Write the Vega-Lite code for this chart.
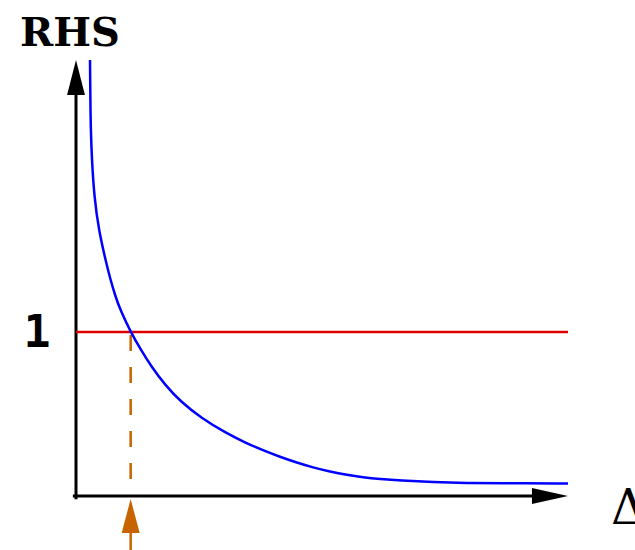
{
  "$schema": "https://vega.github.io/schema/vega-lite/v6.json",
  "width": 492,
  "height": 436,
  "autosize": {"type": "none"},
  "padding": {"left": 76, "top": 60, "right": 67, "bottom": 54},
  "background": "white",
  "config": {"view": {"stroke": null}},
  "datasets": {
    "curve": [
      {"d": 0.2561, "rhs": 2.6585},
      {"d": 0.2616, "rhs": 2.4634},
      {"d": 0.2689, "rhs": 2.2378},
      {"d": 0.2927, "rhs": 2.0366},
      {"d": 0.3348, "rhs": 1.8232},
      {"d": 0.4152, "rhs": 1.622},
      {"d": 0.5488, "rhs": 1.4268},
      {"d": 0.6274, "rhs": 1.3232},
      {"d": 0.7189, "rhs": 1.2195},
      {"d": 0.8104, "rhs": 1.1341},
      {"d": 1.0, "rhs": 1.0},
      {"d": 1.189, "rhs": 0.8902},
      {"d": 1.372, "rhs": 0.7927},
      {"d": 1.628, "rhs": 0.6768},
      {"d": 1.9207, "rhs": 0.5732},
      {"d": 2.2866, "rhs": 0.4768},
      {"d": 2.7439, "rhs": 0.3835},
      {"d": 3.1098, "rhs": 0.3232},
      {"d": 3.4207, "rhs": 0.2787},
      {"d": 3.7317, "rhs": 0.2384},
      {"d": 4.0427, "rhs": 0.2030},
      {"d": 4.3354, "rhs": 0.1738},
      {"d": 4.6463, "rhs": 0.1482},
      {"d": 4.9573, "rhs": 0.128},
      {"d": 5.25, "rhs": 0.114},
      {"d": 5.561, "rhs": 0.1037},
      {"d": 5.9268, "rhs": 0.0945},
      {"d": 6.5305, "rhs": 0.0854},
      {"d": 7.1524, "rhs": 0.0793},
      {"d": 7.7561, "rhs": 0.0774},
      {"d": 9.0, "rhs": 0.0762}
    ]
  },
  "layer": [
    {
      "data": {"values": [{"x": -0.03, "x2": 8.4, "y": 0, "y2": 0}, {"x": 0, "x2": 0, "y": -0.01, "y2": 2.45}]},
      "mark": {"type": "rule", "color": "black", "strokeWidth": 3, "strokeCap": "square"},
      "encoding": {
        "x": {"field": "x", "type": "quantitative", "scale": {"domain": [0, 9], "nice": false, "zero": false}, "axis": null},
        "x2": {"field": "x2"},
        "y": {"field": "y", "type": "quantitative", "scale": {"domain": [0, 2.6585], "nice": false, "zero": false}, "axis": null},
        "y2": {"field": "y2"}
      }
    },
    {
      "data": {"values": [{"x": 0, "y": 2.552}]},
      "mark": {"type": "point", "filled": true, "opacity": 1, "color": "black", "size": 1225, "shape": "M0,-1L-0.51,1L0.51,1Z", "clip": false},
      "encoding": {
        "x": {"field": "x", "type": "quantitative", "scale": {"domain": [0, 9], "nice": false, "zero": false}, "axis": null},
        "y": {"field": "y", "type": "quantitative", "scale": {"domain": [0, 2.6585], "nice": false, "zero": false}, "axis": null}
      }
    },
    {
      "data": {"values": [{"x": 8.67, "y": 0}]},
      "mark": {"type": "point", "filled": true, "opacity": 1, "color": "black", "size": 1296, "shape": "M1,0L-1,-0.44L-1,0.44Z", "clip": false},
      "encoding": {
        "x": {"field": "x", "type": "quantitative", "scale": {"domain": [0, 9], "nice": false, "zero": false}, "axis": null},
        "y": {"field": "y", "type": "quantitative", "scale": {"domain": [0, 2.6585], "nice": false, "zero": false}, "axis": null}
      }
    },
    {
      "data": {"values": [{"x": 0, "x2": 9, "y": 1}]},
      "mark": {"type": "rule", "color": "#dd0000", "strokeWidth": 2.5},
      "encoding": {
        "x": {"field": "x", "type": "quantitative", "scale": {"domain": [0, 9], "nice": false, "zero": false}, "axis": null},
        "x2": {"field": "x2"},
        "y": {"field": "y", "type": "quantitative", "scale": {"domain": [0, 2.6585], "nice": false, "zero": false}, "axis": null}
      }
    },
    {
      "data": {"values": [{"x": 1.0, "y": 1.0, "y2": 0.05}]},
      "mark": {"type": "rule", "color": "#c86400", "strokeWidth": 2.5, "strokeDash": [16, 16], "strokeDashOffset": -3},
      "encoding": {
        "x": {"field": "x", "type": "quantitative", "scale": {"domain": [0, 9], "nice": false, "zero": false}, "axis": null},
        "y": {"field": "y", "type": "quantitative", "scale": {"domain": [0, 2.6585], "nice": false, "zero": false}, "axis": null},
        "y2": {"field": "y2"}
      }
    },
    {
      "data": {"values": [{"x": 1.0, "y": -0.2, "y2": -0.34}]},
      "mark": {"type": "rule", "color": "#c86400", "strokeWidth": 2.5, "clip": false},
      "encoding": {
        "x": {"field": "x", "type": "quantitative", "scale": {"domain": [0, 9], "nice": false, "zero": false}, "axis": null},
        "y": {"field": "y", "type": "quantitative", "scale": {"domain": [0, 2.6585], "nice": false, "zero": false}, "axis": null},
        "y2": {"field": "y2"}
      }
    },
    {
      "data": {"values": [{"x": 1.0, "y": -0.122}]},
      "mark": {"type": "point", "filled": true, "opacity": 1, "color": "#c86400", "size": 1156, "shape": "M0,-1L-0.53,1L0.53,1Z", "clip": false},
      "encoding": {
        "x": {"field": "x", "type": "quantitative", "scale": {"domain": [0, 9], "nice": false, "zero": false}, "axis": null},
        "y": {"field": "y", "type": "quantitative", "scale": {"domain": [0, 2.6585], "nice": false, "zero": false}, "axis": null}
      }
    },
    {
      "data": {"name": "curve"},
      "mark": {"type": "line", "color": "#0000ff", "strokeWidth": 2.5, "interpolate": "basis", "clip": false},
      "encoding": {
        "x": {"field": "d", "type": "quantitative", "scale": {"domain": [0, 9], "nice": false, "zero": false}, "axis": null},
        "y": {"field": "rhs", "type": "quantitative", "scale": {"domain": [0, 2.6585], "nice": false, "zero": false}, "axis": null}
      }
    },
    {
      "data": {"values": [{"x": -0.11, "y": 2.744, "label": "RHS"}]},
      "mark": {"type": "text", "font": "DejaVu Serif", "fontWeight": "bold", "fontSize": 40, "align": "center", "baseline": "alphabetic", "color": "black"},
      "encoding": {
        "x": {"field": "x", "type": "quantitative", "scale": {"domain": [0, 9], "nice": false, "zero": false}, "axis": null},
        "y": {"field": "y", "type": "quantitative", "scale": {"domain": [0, 2.6585], "nice": false, "zero": false}, "axis": null},
        "text": {"field": "label"}
      }
    },
    {
      "data": {"values": [{"x": -0.713, "y": 0.909, "label": "1"}]},
      "mark": {"type": "text", "font": "DejaVu Sans Mono", "fontWeight": "bold", "fontSize": 45, "align": "center", "baseline": "alphabetic", "color": "black"},
      "encoding": {
        "x": {"field": "x", "type": "quantitative", "scale": {"domain": [0, 9], "nice": false, "zero": false}, "axis": null},
        "y": {"field": "y", "type": "quantitative", "scale": {"domain": [0, 2.6585], "nice": false, "zero": false}, "axis": null},
        "text": {"field": "label"}
      }
    },
    {
      "data": {"values": [{"x": 9.786, "y": -0.171, "label": "Δ"}]},
      "mark": {"type": "text", "font": "DejaVu Serif", "fontSize": 48, "align": "left", "baseline": "alphabetic", "color": "black"},
      "encoding": {
        "x": {"field": "x", "type": "quantitative", "scale": {"domain": [0, 9], "nice": false, "zero": false}, "axis": null},
        "y": {"field": "y", "type": "quantitative", "scale": {"domain": [0, 2.6585], "nice": false, "zero": false}, "axis": null},
        "text": {"field": "label"}
      }
    }
  ]
}
